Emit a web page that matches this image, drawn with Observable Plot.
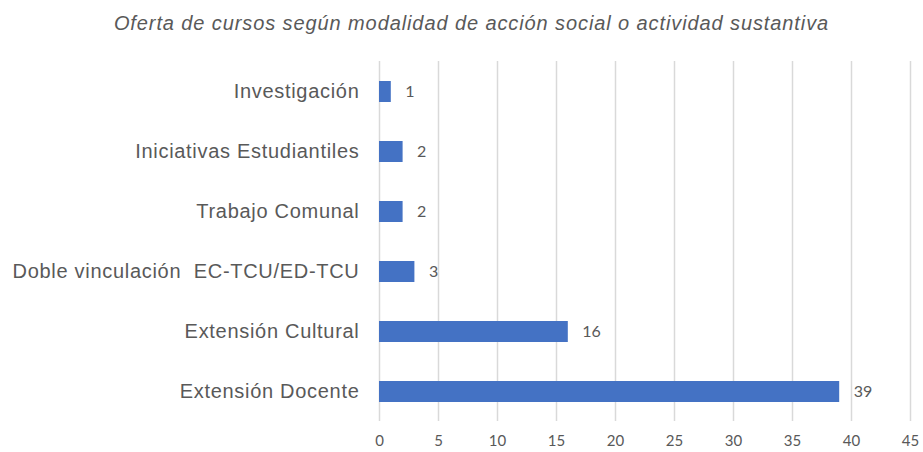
<!DOCTYPE html>
<html><head><meta charset="utf-8">
<script src="https://cdn.jsdelivr.net/npm/d3@7"></script>
<script src="https://cdn.jsdelivr.net/npm/@observablehq/plot@0.6"></script>
<style>
body{margin:0;background:#fff;}
#title{height:45px;line-height:46px;text-align:center;font-family:"Liberation Sans",Arial,sans-serif;font-style:italic;font-size:20px;letter-spacing:0.9px;color:#595959;padding-left:20px;}
</style></head><body>
<div id="title">Oferta de cursos según modalidad de acción social o actividad sustantiva</div>
<div id="chart"></div>
<script>
const categories = ["Investigación","Iniciativas Estudiantiles","Trabajo Comunal","Doble vinculación  EC-TCU/ED-TCU","Extensión Cultural","Extensión Docente"];
const values = [1,2,2,3,16,39];
const xTicks = [0,5,10,15,20,25,30,35,40,45];
const data = categories.map((c,i)=>({cat:c, v:values[i]}));
const chart = Plot.plot({
  width: 923, height: 407,
  marginLeft: 379, marginRight: 13, marginTop: 16, marginBottom: 31,
  style: {fontFamily: "'Liberation Sans', Arial, sans-serif", background: "#fff"},
  x: {domain: [0,45], ticks: xTicks, tickSize: 0, tickPadding: 14, label: null, tickFormat: d=>d},
  y: {domain: categories, paddingInner: 0.65, paddingOuter: 0.325, tickSize: 0, tickPadding: 20, label: null},
  marks: [
    Plot.ruleX(xTicks, {stroke: "#d9d9d9", strokeWidth: 1.5}),
    Plot.barX(data, {x: "v", y: "cat", fill: "#4472c4"}),
    Plot.text(data, {x: "v", y: "cat", text: d=>String(d.v), dx: 14, textAnchor: "start", fill: "#595959", fontSize: 16, fontFamily: "Lato, sans-serif"}),
    Plot.axisX({ticks: xTicks, tickSize: 0, tickPadding: 14, fontSize: 15, color: "#595959", fontFamily: "Lato, sans-serif"}),
    Plot.axisY({tickSize: 0, tickPadding: 20, fontSize: 20, color: "#595959"})
  ]
});
chart.querySelectorAll("text").forEach(t=>t.setAttribute("fill-opacity","1"));
chart.querySelectorAll("[aria-label='y-axis tick label'] text").forEach(t=>{t.style.letterSpacing="0.7px"; t.style.whiteSpace="pre";});
document.getElementById("chart").append(chart);
</script>
</body></html>
